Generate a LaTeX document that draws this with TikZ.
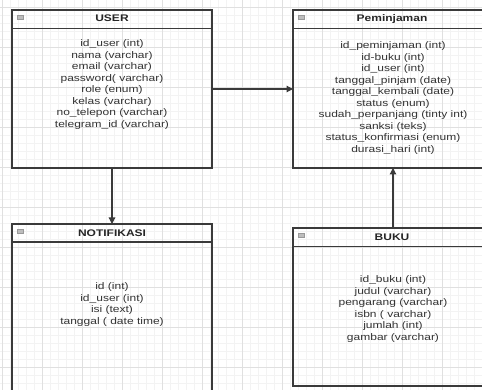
\documentclass[tikz,border=0pt]{standalone}
\usepackage{fontspec}
\setmainfont[FakeStretch=1.25]{Liberation Sans}
\usetikzlibrary{arrows.meta}
\definecolor{gridminor}{HTML}{F3F3F3}
\definecolor{gridmajor}{HTML}{E0E0E0}
\definecolor{boxline}{HTML}{3A3A3A}
\definecolor{txt}{HTML}{333333}
\definecolor{iconfill}{HTML}{BDBDBD}
\begin{document}
\begin{tikzpicture}[x=1pt,y=-1pt,
  tablebox/.style={draw=boxline, line width=1.2pt, rectangle, inner sep=0pt, outer sep=0pt, minimum width=200pt},
  sepline/.style={draw=boxline, line width=1.1pt},
  icon/.style={draw=gray!80, fill=iconfill, line width=0.6pt, minimum width=6.5pt, minimum height=4pt, inner sep=0pt},
  titletext/.style={font=\fontsize{9.6}{11.5}\selectfont\bfseries, text=black!85, inner sep=0pt},
  attr/.style={font=\fontsize{9.6}{11.5}\selectfont, text=txt, align=center, inner sep=0pt, anchor=north},
  conn/.style={draw=boxline, line width=1.2pt, -{Triangle[length=6.5pt,width=6.5pt]}}
]
\useasboundingbox (0,0) rectangle (482,390);
\clip (0,0) rectangle (482,390);
\fill[white] (0,0) rectangle (482,390);
% grid
\foreach \i in {0,...,60} {\draw[gridminor, line width=0.5pt] ({2+8*\i},0) -- ({2+8*\i},390);}
\foreach \i in {0,...,49} {\draw[gridminor, line width=0.5pt] (0,{-1+8*\i}) -- (482,{-1+8*\i});}
\foreach \i in {0,...,12} {\draw[gridmajor, line width=0.6pt] ({2+40*\i},0) -- ({2+40*\i},390);}
\foreach \i in {0,...,9} {\draw[gridmajor, line width=0.6pt] (0,{7+40*\i}) -- (482,{7+40*\i});}

% boxes
\node[tablebox, minimum height=158pt, anchor=north west] (user) at (12,10) {};
\node[tablebox, minimum height=158pt, anchor=north west] (pinjam) at (293,10) {};
\node[tablebox, minimum height=180pt, anchor=north west] (notif) at (12,224) {};
\node[tablebox, minimum height=158pt, anchor=north west] (buku) at (293,228) {};

% header separators
\draw[sepline] ([yshift=-18.5pt]user.north west) -- ([yshift=-18.5pt]user.north east);
\draw[sepline] ([yshift=-18.5pt]pinjam.north west) -- ([yshift=-18.5pt]pinjam.north east);
\draw[sepline] ([yshift=-18pt]notif.north west) -- ([yshift=-18pt]notif.north east);
\draw[sepline] ([yshift=-18.5pt]buku.north west) -- ([yshift=-18.5pt]buku.north east);

% icons
\node[icon] (iu) at ([xshift=8.5pt,yshift=-7pt]user.north west) {};
\node[icon] (ip) at ([xshift=8.5pt,yshift=-7pt]pinjam.north west) {};
\node[icon] (in) at ([xshift=8.5pt,yshift=-7pt]notif.north west) {};
\node[icon] (ib) at ([xshift=8.5pt,yshift=-7pt]buku.north west) {};

% titles
\node[titletext] (tu) at (112,18.5) {USER};
\node[titletext] (tp) at (392,19) {Peminjaman};
\node[titletext] (tn) at (112,233) {NOTIFIKASI};
\node[titletext] (tb) at (392,237) {BUKU};

% attributes
\node[attr] (au) at (112,39.5) {id\_user (int)\\nama (varchar)\\email (varchar)\\password( varchar)\\role (enum)\\kelas (varchar)\\no\_telepon (varchar)\\telegram\_id (varchar)};
\node[attr] (ap) at (393,41.5) {id\_peminjaman (int)\\id-buku (int)\\id\_user (int)\\tanggal\_pinjam (date)\\tanggal\_kembali (date)\\status (enum)\\sudah\_perpanjang (tinty int)\\sanksi (teks)\\status\_konfirmasi (enum)\\durasi\_hari (int)};
\node[attr] (an) at (112,282.5) {id (int)\\id\_user (int)\\isi (text)\\tanggal ( date time)};
\node[attr] (ab) at (393,275.5) {id\_buku (int)\\judul (varchar)\\pengarang (varchar)\\isbn ( varchar)\\jumlah (int)\\gambar (varchar)};

% connectors
\draw[conn] (user.east) -- (pinjam.west);
\draw[conn] (user.south) -- (notif.north);
\draw[conn] (buku.north) -- (pinjam.south);
\end{tikzpicture}
\end{document}
